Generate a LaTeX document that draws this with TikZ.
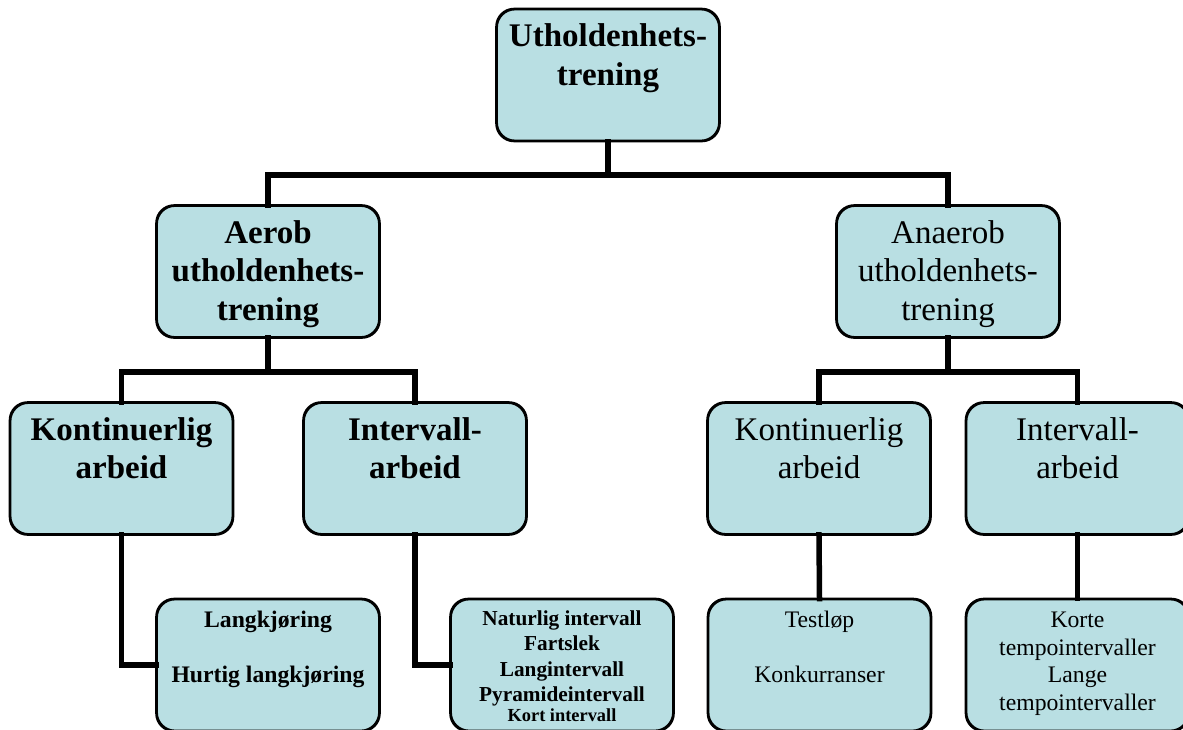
\documentclass[tikz,border=0pt]{standalone}
\usepackage{fontspec}
\setmainfont{Liberation Serif}
\usetikzlibrary{positioning}
\definecolor{boxfill}{HTML}{B9DFE3}
\tikzset{
  box/.style={draw=black, line width=1.8pt, fill=boxfill, rounded corners=18pt,
    minimum width=222pt, minimum height=131pt, inner sep=0pt},
  conn/.style={line width=5.5pt, line join=miter, line cap=rect},
  bigtxt/.style={align=center, inner sep=0pt, font=\fontsize{33}{38.5}\selectfont},
  bigbold/.style={bigtxt, font=\fontsize{33}{38.5}\selectfont\bfseries},
  smalltxt/.style={align=center, inner sep=0pt, font=\fontsize{23.7}{27.5}\selectfont},
  smallbold/.style={smalltxt, font=\fontsize{23.7}{27.5}\selectfont\bfseries},
  tinybold/.style={align=center, inner sep=0pt, font=\fontsize{21.3}{25.5}\selectfont\bfseries}
}
\begin{document}
\begin{tikzpicture}[x=1pt,y=-1pt]
\useasboundingbox (0,0) rectangle (1183,729);
\clip (0,0) rectangle (1183,729);
% boxes
\node[box] (top) at (608,75) {};
\node[box] (aer) at (268,271.5) {};
\node[box] (ana) at (948,271.5) {};
\node[box] (kl) at (121.5,468.5) {};
\node[box] (il) at (415,468.5) {};
\node[box] (kr) at (819,468.5) {};
\node[box] (ir) at (1077.5,468.5) {};
\node[box] (lang) at (268,665) {};
\node[box] (nat) at (562,665) {};
\node[box] (test) at (819.5,665) {};
\node[box] (kort) at (1077.5,665) {};
% connectors
\coordinate (j0) at (608,175);
\coordinate (ja) at (268,372);
\coordinate (jb) at (948,372);
\draw[conn] (top.south) -- (j0) -| (aer.north);
\draw[conn] (j0) -| (ana.north);
\draw[conn] (aer.south) -- (ja) -| (kl.north);
\draw[conn] (ja) -| (il.north);
\draw[conn] (ana.south) -- (jb) -| (kr.north);
\draw[conn] (jb) -| (ir.north);
\draw[conn] (kl.south) |- (lang.west);
\draw[conn] (il.south) |- (nat.west);
\draw[conn] (kr.south) -- (test.north);
\draw[conn] (ir.south) -- (kort.north);
% redraw box borders over connector ends
\foreach \b in {top,aer,ana,kl,il,kr,ir,lang,nat,test,kort}{
  \draw[line width=1.8pt, rounded corners=18pt] (\b.north west) rectangle (\b.south east);
}
% texts
\node[bigbold, below=11pt of top.north] (ttop) {\strut Utholdenhets-\\trening};
\node[bigbold, below=11pt of aer.north] (taer) {\strut Aerob\\utholdenhets-\\trening};
\node[bigtxt, below=11pt of ana.north] (tana) {\strut Anaerob\\utholdenhets-\\trening};
\node[bigbold, below=11pt of kl.north] (tkl) {\strut Kontinuerlig\\arbeid};
\node[bigbold, below=11pt of il.north] (til) {\strut Intervall-\\arbeid};
\node[bigtxt, below=11pt of kr.north] (tkr) {\strut Kontinuerlig\\arbeid};
\node[bigtxt, below=11pt of ir.north] (tir) {\strut Intervall-\\arbeid};
\node[smallbold, below=9.5pt of lang.north] (tlang) {\strut Langkjøring\\[27.5pt]Hurtig langkjøring};
\node[tinybold, below=8.5pt of nat.north] (tnat) {\strut Naturlig intervall\\Fartslek\\Langintervall\\Pyramideintervall\\[-6pt]{\fontsize{18.4}{19}\selectfont Kort intervall}};
\node[smalltxt, below=9.5pt of test.north] (ttest) {\strut Testløp\\[27.5pt]Konkurranser};
\node[smalltxt, below=9.5pt of kort.north] (tkort) {\strut Korte\\tempointervaller\\Lange\\tempointervaller};
\end{tikzpicture}
\end{document}
